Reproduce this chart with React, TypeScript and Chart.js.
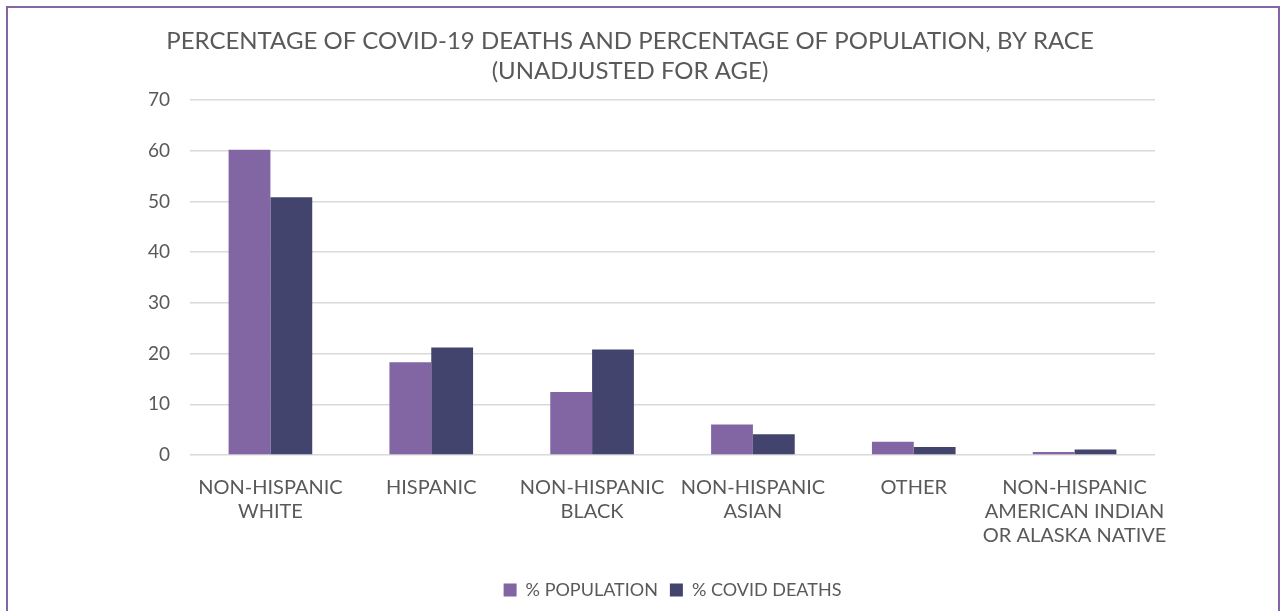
import React, { useEffect, useRef } from "react";
import { Chart, registerables } from "chart.js";

Chart.register(...registerables);

const categories: string[][] = [
  ["NON-HISPANIC", "WHITE"],
  ["HISPANIC"],
  ["NON-HISPANIC", "BLACK"],
  ["NON-HISPANIC", "ASIAN"],
  ["OTHER"],
  ["NON-HISPANIC", "AMERICAN INDIAN", "OR ALASKA NATIVE"],
];
const populationPct = [60.2, 18.3, 12.4, 6.0, 2.6, 0.6];
const covidDeathsPct = [50.8, 21.2, 20.8, 4.1, 1.6, 1.1];
const seriesNames = ["% POPULATION", "% COVID DEATHS"];
const titleLines = [
  "PERCENTAGE OF COVID-19 DEATHS AND PERCENTAGE OF POPULATION, BY RACE",
  "(UNADJUSTED FOR AGE)",
];
const yMin = 0;
const yMax = 70;
const yStep = 10;

const FONT = "Lato, 'Open Sans', sans-serif";
const TEXT = "#595959";

export default function App() {
  const ref = useRef<HTMLCanvasElement | null>(null);

  useEffect(() => {
    if (!ref.current) return;
    const chart = new Chart(ref.current, {
      type: "bar",
      data: {
        labels: categories,
        datasets: [
          {
            label: seriesNames[0],
            data: populationPct,
            backgroundColor: "#8166A3",
            borderWidth: 0,
          },
          {
            label: seriesNames[1],
            data: covidDeathsPct,
            backgroundColor: "#42446E",
            borderWidth: 0,
          },
        ],
      },
      options: {
        animation: false,
        responsive: false,
        maintainAspectRatio: false,
        datasets: {
          bar: { categoryPercentage: 0.52, barPercentage: 1 },
        },
        layout: { padding: { left: 105, right: 125, top: 0, bottom: 2 } },
        plugins: {
          title: {
            display: true,
            text: titleLines,
            color: TEXT,
            font: { family: FONT, size: 24, weight: "normal", lineHeight: 1.25 },
            padding: { top: 26, bottom: 14 },
          },
          legend: {
            position: "bottom",
            fullSize: false,
            labels: {
              color: TEXT,
              font: { family: FONT, size: 18 },
              boxWidth: 13,
              boxHeight: 13,
              padding: 12,
            },
          },
          tooltip: { enabled: false },
        },
        scales: {
          x: {
            grid: { display: false, drawTicks: false },
            border: { display: false },
            ticks: {
              color: TEXT,
              font: { family: FONT, size: 20, lineHeight: 1.22 },
              padding: 20,
              maxRotation: 0,
              autoSkip: false,
            },
            afterFit: (scale: any) => {
              scale.height = 114;
            },
          },
          y: {
            min: yMin,
            max: yMax,
            grid: { color: "#D9D9D9", lineWidth: 1.5, drawTicks: false },
            border: { display: false },
            ticks: {
              stepSize: yStep,
              color: TEXT,
              font: { family: FONT, size: 19 },
              padding: 20,
            },
            afterFit: (scale: any) => {
              scale.width = 85;
            },
          },
        },
      },
    });
    return () => chart.destroy();
  }, []);

  return (
    <div style={{ position: "fixed", left: 0, top: 0, width: 1280, height: 611, background: "#fff", overflow: "hidden" }}>
      <div
        style={{
          position: "absolute",
          left: 6,
          top: 6,
          width: 1274,
          height: 640,
          border: "2px solid #8466A8",
          boxSizing: "border-box",
        }}
      />
      <canvas ref={ref} width={1280} height={611} style={{ position: "absolute", left: 0, top: 0, width: 1280, height: 611 }} />
    </div>
  );
}
